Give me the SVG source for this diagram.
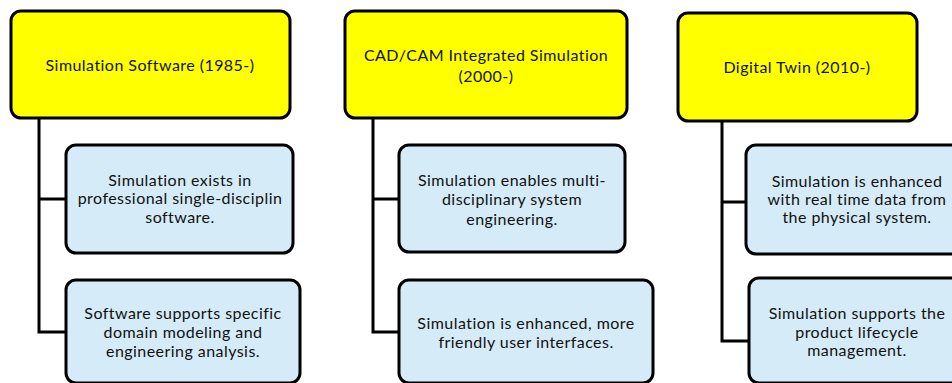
<svg xmlns="http://www.w3.org/2000/svg" width="952" height="383" viewBox="0 0 952 383">
  <style>
    .head { fill: #ffff00; stroke: #000; stroke-width: 3; }
    .item { fill: #d5ecf8; stroke: #000; stroke-width: 3; }
    .link { fill: none; stroke: #000; stroke-width: 3; }
    text { font-family: Lato, "Liberation Sans", sans-serif; font-size: 16px; letter-spacing: 0.45px; fill: #111; text-anchor: middle; dominant-baseline: central; }
  </style>
  <rect width="952" height="383" fill="#fff"/>

  <!-- connectors: trunk from each era header, branching to its items -->
  <g id="connectors">
    <path class="link" d="M39,118 V332 H66 M39,199 H66"/>
    <path class="link" d="M373,118 V332 H399 M373,199 H399"/>
    <path class="link" d="M722,120 V341 H749 M722,202 H746"/>
  </g>

  <!-- era 1 -->
  <g id="era-1985">
    <rect class="head" x="11" y="11" width="279" height="107" rx="10"/>
    <text x="150" y="64">Simulation Software (1985-)</text>
  </g>
  <g id="item-1985-a">
    <rect class="item" x="66" y="145" width="227" height="108" rx="10"/>
    <text x="180" y="179">Simulation exists in</text>
    <text x="180" y="197.5">professional single-disciplin</text>
    <text x="180" y="216">software.</text>
  </g>
  <g id="item-1985-b">
    <rect class="item" x="66" y="280" width="234" height="103" rx="10"/>
    <text x="183" y="312">Software supports specific</text>
    <text x="183" y="331">domain modeling and</text>
    <text x="183" y="350">engineering analysis.</text>
  </g>

  <!-- era 2 -->
  <g id="era-2000">
    <rect class="head" x="345" y="11" width="282" height="107" rx="10"/>
    <text x="486" y="54">CAD/CAM Integrated Simulation</text>
    <text x="486" y="75">(2000-)</text>
  </g>
  <g id="item-2000-a">
    <rect class="item" x="399" y="145" width="226" height="107" rx="10"/>
    <text x="512" y="179">Simulation enables multi-</text>
    <text x="512" y="198.5">disciplinary system</text>
    <text x="512" y="218">engineering.</text>
  </g>
  <g id="item-2000-b">
    <rect class="item" x="399" y="280" width="254" height="103" rx="10"/>
    <text x="526" y="322">Simulation is enhanced, more</text>
    <text x="526" y="341">friendly user interfaces.</text>
  </g>

  <!-- era 3 -->
  <g id="era-2010">
    <rect class="head" x="678" y="13" width="239" height="108" rx="10"/>
    <text x="797" y="66">Digital Twin (2010-)</text>
  </g>
  <g id="item-2010-a">
    <rect class="item" x="746" y="145" width="225" height="109" rx="10"/>
    <text x="857" y="180">Simulation is enhanced</text>
    <text x="857" y="198">with real time data from</text>
    <text x="857" y="216">the physical system.</text>
  </g>
  <g id="item-2010-b">
    <rect class="item" x="749" y="278" width="222" height="105" rx="10"/>
    <text x="857" y="312">Simulation supports the</text>
    <text x="857" y="331">product lifecycle</text>
    <text x="857" y="349">management.</text>
  </g>
</svg>
